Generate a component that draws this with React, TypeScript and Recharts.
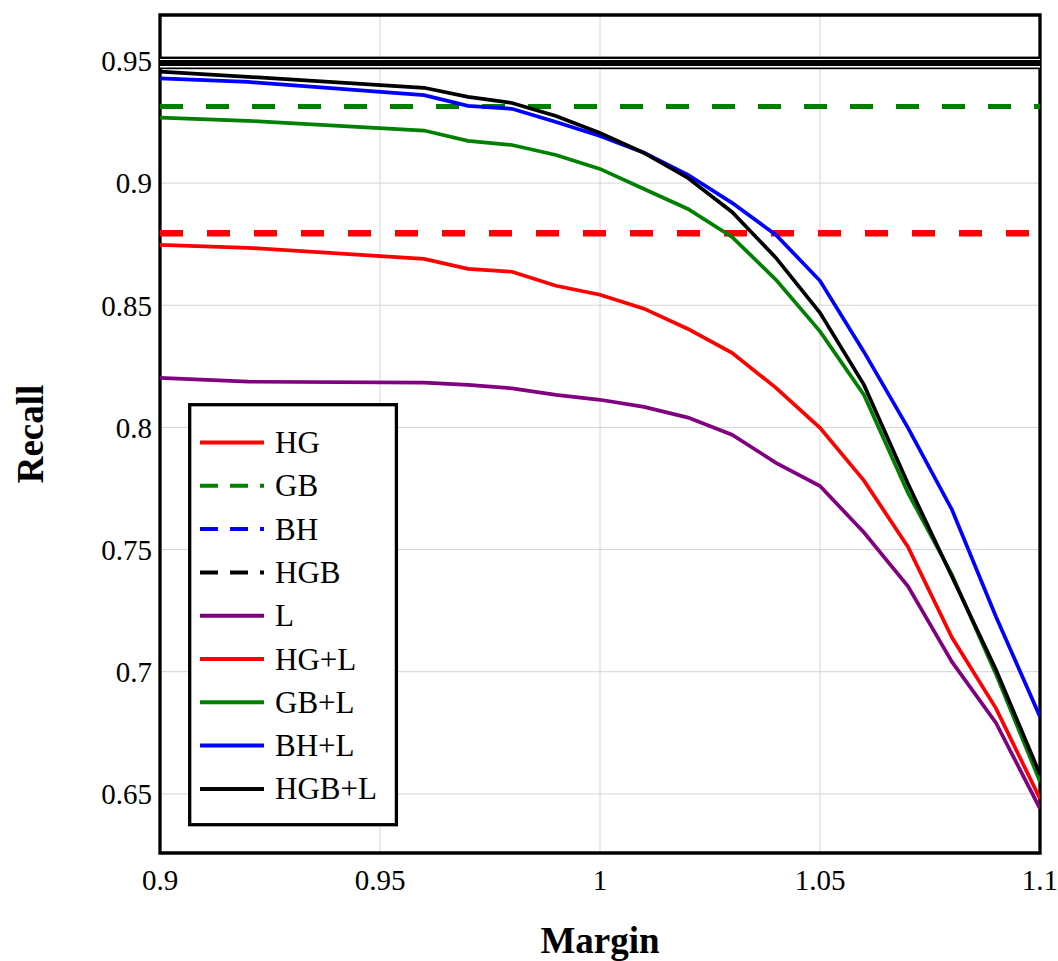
import React from "react";
import {
  LineChart,
  Line,
  XAxis,
  YAxis,
  CartesianGrid,
  ReferenceLine,
  ReferenceArea,
  Legend,
} from "recharts";

// margin values where the curves were sampled
const margins = [0.9, 0.92, 0.96, 0.97, 0.98, 0.99, 1.0, 1.01, 1.02, 1.03, 1.04, 1.05, 1.06, 1.07, 1.08, 1.09, 1.1];

const recallL = [0.8203, 0.8187, 0.8183, 0.8174, 0.816, 0.8133, 0.8113, 0.8084, 0.804, 0.797, 0.7855, 0.776, 0.757, 0.735, 0.704, 0.679, 0.644];
const recallHGL = [0.8747, 0.8735, 0.869, 0.8649, 0.8637, 0.858, 0.8543, 0.8486, 0.8403, 0.8305, 0.8162, 0.7998, 0.7782, 0.7511, 0.714, 0.685, 0.648];
const recallGBL = [0.9268, 0.9255, 0.9215, 0.9173, 0.9156, 0.9115, 0.9058, 0.8976, 0.8894, 0.878, 0.8604, 0.8393, 0.8133, 0.7732, 0.7397, 0.699, 0.655];
const recallBHL = [0.9429, 0.9414, 0.936, 0.9316, 0.9304, 0.925, 0.9193, 0.9124, 0.9034, 0.8919, 0.8788, 0.86, 0.8309, 0.7998, 0.7663, 0.7225, 0.6816];
const recallHGBL = [0.9456, 0.9435, 0.939, 0.9353, 0.9328, 0.9275, 0.9205, 0.9124, 0.9021, 0.8882, 0.8694, 0.8469, 0.8174, 0.7769, 0.7389, 0.7008, 0.658];

// constant baselines (no dependence on margin)
const recallHG = 0.8795;
const recallGB = 0.9313;
const recallBH = 0.9492;
const recallHGB = 0.9492;

const xTicks = [0.9, 0.95, 1, 1.05, 1.1];
const yTicks = [0.65, 0.7, 0.75, 0.8, 0.85, 0.9, 0.95];
const xDomain = [0.9, 1.1];
const yDomain = [0.6258, 0.9688];

const legendItems = [
  { name: "HG", color: "#ff0000", dash: "" },
  { name: "GB", color: "#008000", dash: "18 12" },
  { name: "BH", color: "#0000ff", dash: "18 12" },
  { name: "HGB", color: "#000000", dash: "18 12" },
  { name: "L", color: "#800080", dash: "" },
  { name: "HG+L", color: "#ff0000", dash: "" },
  { name: "GB+L", color: "#008000", dash: "" },
  { name: "BH+L", color: "#0000ff", dash: "" },
  { name: "HGB+L", color: "#000000", dash: "" },
];

const rows = margins.map((m, i) => ({
  margin: m,
  L: recallL[i],
  HGL: recallHGL[i],
  GBL: recallGBL[i],
  BHL: recallBHL[i],
  HGBL: recallHGBL[i],
}));

const FONT = "'Liberation Serif', 'Times New Roman', serif";

function AxisTitle(props: any) {
  const { viewBox, text, vertical } = props;
  if (!viewBox) return null;
  if (vertical) {
    const cx = viewBox.x + 30;
    const cy = viewBox.y + viewBox.height / 2;
    return (
      <text x={cx} y={cy} transform={`rotate(-90 ${cx} ${cy})`} textAnchor="middle" dominantBaseline="central"
        fontFamily={FONT} fontSize={37} fontWeight="bold" fill="#000">
        {text}
      </text>
    );
  }
  return (
    <text x={viewBox.x + viewBox.width / 2} y={viewBox.y + 87} textAnchor="middle" dominantBaseline="central"
      fontFamily={FONT} fontSize={37} fontWeight="bold" fill="#000">
      {text}
    </text>
  );
}

// the doubled black rule at the top of the plot
function DoubleRule(props: any) {
  const { x1, x2, y1 } = props;
  return (
    <g>
      <rect x={x1} y={y1 - 6.3} width={x2 - x1} height={12.6} fill="#000" />
      <line x1={x1} x2={x2} y1={y1 - 3.4} y2={y1 - 3.4} stroke="#fff" strokeWidth={1} />
      <line x1={x1} x2={x2} y1={y1 + 3.85} y2={y1 + 3.85} stroke="#fff" strokeWidth={1.7} />
    </g>
  );
}

function LegendBox() {
  return (
    <svg width={212} height={426} style={{ display: "block" }}>
      <rect x={1.7} y={1.7} width={206.7} height={420} fill="#fff" stroke="#000" strokeWidth={3.3} />
      {legendItems.map((it, i) => {
        const y = 39.5 + i * 43.3;
        return (
          <g key={it.name}>
            <line x1={12} x2={76} y1={y} y2={y} stroke={it.color} strokeWidth={4}
              strokeDasharray={it.dash || undefined} />
            <text x={87} y={y} dominantBaseline="central" fontFamily={FONT} fontSize={31} fill="#000">
              {it.name}
            </text>
          </g>
        );
      })}
    </svg>
  );
}

export default function App() {
  const tickStyle = { fontFamily: FONT, fontSize: 29, fill: "#000" };
  return (
    <div style={{ position: "absolute", left: 0, top: 0, background: "#fff" }}>
      <LineChart width={1058} height={961} data={rows} margin={{ top: 15, right: 18, bottom: 0, left: 0 }}>
        <CartesianGrid stroke="#d4d4d4" strokeWidth={1} />
        <XAxis
          dataKey="margin"
          type="number"
          domain={xDomain}
          ticks={xTicks}
          allowDataOverflow
          height={108}
          axisLine={false}
          tickLine={false}
          tickMargin={10}
          tick={tickStyle}
          label={<AxisTitle text="Margin" />}
        />
        <YAxis
          type="number"
          domain={yDomain}
          ticks={yTicks}
          allowDataOverflow
          width={160}
          axisLine={false}
          tickLine={false}
          tickMargin={2}
          tick={tickStyle}
          label={<AxisTitle text="Recall" vertical />}
        />
        <ReferenceLine y={recallHG} stroke="#ff0000" strokeWidth={6.5} strokeDasharray="23 24" />
        <ReferenceLine y={recallGB} stroke="#008000" strokeWidth={5} strokeDasharray="23 23" />
        <ReferenceLine y={recallBH} stroke="#0000ff" strokeWidth={4} strokeDasharray="23 23" />
        <ReferenceLine y={recallHGB} shape={DoubleRule} />
        <Line dataKey="L" stroke="#800080" strokeWidth={3.7} dot={false} isAnimationActive={false} />
        <Line dataKey="HGL" stroke="#ff0000" strokeWidth={3.7} dot={false} isAnimationActive={false} />
        <Line dataKey="GBL" stroke="#008000" strokeWidth={3.7} dot={false} isAnimationActive={false} />
        <Line dataKey="BHL" stroke="#0000ff" strokeWidth={3.7} dot={false} isAnimationActive={false} />
        <Line dataKey="HGBL" stroke="#000000" strokeWidth={3.7} dot={false} isAnimationActive={false} />
        <ReferenceArea x1={xDomain[0]} x2={xDomain[1]} y1={yDomain[0]} y2={yDomain[1]}
          fill="none" stroke="#000" strokeWidth={3.3} ifOverflow="visible" />
        <Legend
          layout="horizontal"
          verticalAlign="middle"
          align="center"
          content={() => <LegendBox />}
          wrapperStyle={{ left: 188, top: 403, width: 212, height: 426 }}
        />
      </LineChart>
    </div>
  );
}
